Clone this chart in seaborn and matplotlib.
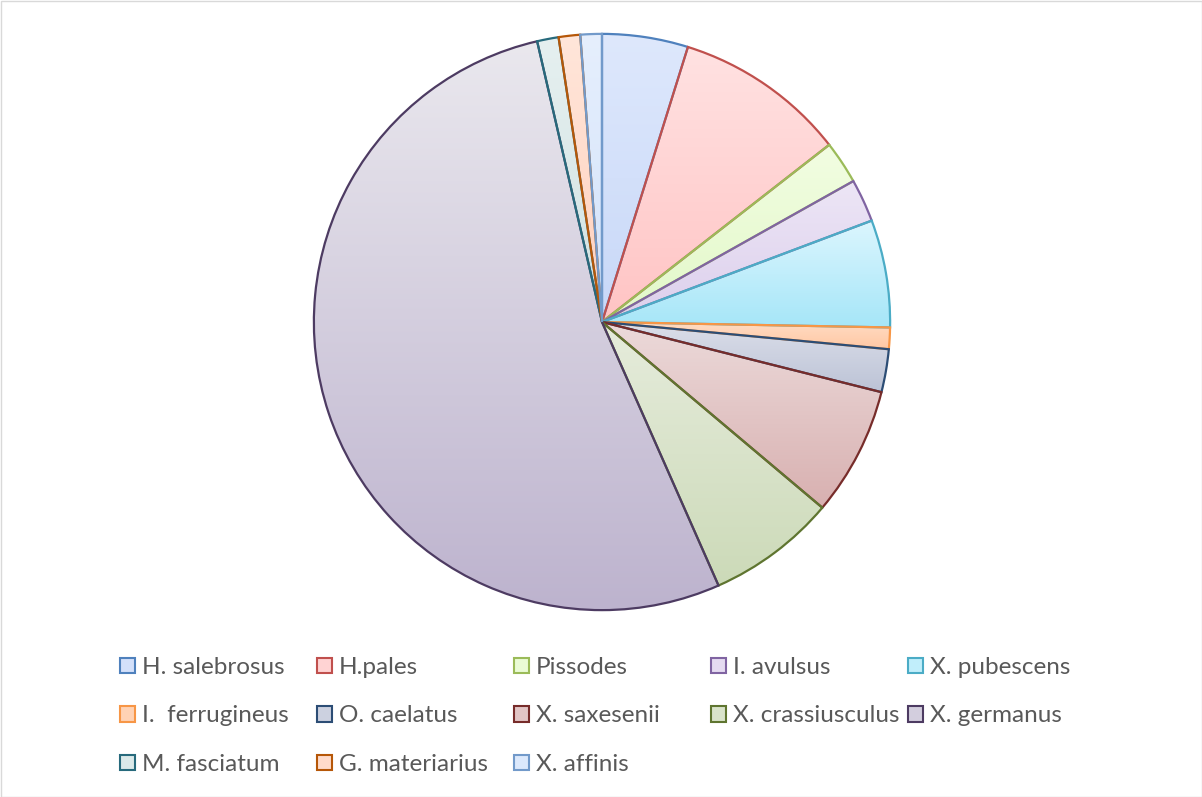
import matplotlib
matplotlib.use("Agg")
import matplotlib.pyplot as plt
from matplotlib.patches import Patch, Rectangle
from matplotlib.colors import to_rgb
import numpy as np
import seaborn as sns

species = ["H. salebrosus", "H.pales", "Pissodes", "I. avulsus", "X. pubescens",
           "I.  ferrugineus", "O. caelatus", "X. saxesenii", "X. crassiusculus",
           "X. germanus", "M. fasciatum", "G. materiarius", "X. affinis"]
counts = [4, 8, 2, 2, 5, 1, 2, 6, 6, 44, 1, 1, 1]
fill_top = ["#DEE8FC", "#FFE2E2", "#F2FDE2", "#EDE6F6", "#DCF6FE", "#FFDCC4", "#DCDFEA",
            "#ECDADA", "#E6ECDC", "#EAE8EE", "#E6F0F0", "#FFE6DA", "#E6EFFD"]
fill_bottom = ["#C8D8F8", "#FFC4C4", "#E2F8C8", "#DCCFEC", "#A6E6F8", "#FFC8A4", "#BCC3D6",
               "#D8B0B0", "#CCDAB8", "#BDB3CE", "#D0E2E2", "#FFD0BC", "#D2E2FA"]
edge_colors = ["#4F81BD", "#C0504D", "#9BBB59", "#8064A2", "#4BACC6", "#F79646",
               "#2C4D75", "#772C2A", "#5F7530", "#4D3B62", "#276A7C", "#B65708", "#729ACA"]

sns.set_theme(style="white")
plt.rcParams['font.family'] = ['Lato', 'DejaVu Sans']

fig = plt.figure(figsize=(12.02, 7.97), dpi=100)
fig.patch.set_facecolor("white")
W, H = 1202, 797
cx, cy, r = 602, 322, 291
ax = fig.add_axes([(cx - r) / W, (H - cy - r) / H, 2 * r / W, 2 * r / H])
mid_colors = [tuple((np.array(to_rgb(a)) + np.array(to_rgb(b))) / 2) for a, b in zip(fill_top, fill_bottom)]
wedges, _ = ax.pie(counts, colors=mid_colors, startangle=90, counterclock=False,
                   radius=1.0, wedgeprops=dict(linewidth=1.6))
for w, ec, ft, fb in zip(wedges, edge_colors, fill_top, fill_bottom):
    w.set_edgecolor(ec)
    w.set_zorder(3)
    th = np.radians(np.linspace(w.theta1, w.theta2, 200))
    ys = np.concatenate([np.sin(th) * w.r + w.center[1], [w.center[1]]])
    ymin, ymax = ys.min(), ys.max()
    t = np.linspace(0, 1, 256)[:, None]
    c0, c1 = np.array(to_rgb(fb)), np.array(to_rgb(ft))
    grad = (c0[None, :] * (1 - t) + c1[None, :] * t)[:, None, :]
    im = ax.imshow(grad, extent=[-1.05, 1.05, ymin, ymax], origin="lower",
                   aspect="auto", zorder=2, interpolation="bilinear")
    im.set_clip_path(w)
    w.set_facecolor("none")
ax.set_xlim(-1.01, 1.01)
ax.set_ylim(-1.01, 1.01)
ax.set_aspect("equal")
ax.axis("off")

handles = [Patch(facecolor=f, edgecolor=e, linewidth=1.5) for f, e in zip(mid_colors, edge_colors)]
ncol = 5
for c in range(ncol):
    idx = list(range(c, len(species), ncol))
    leg = fig.legend([handles[i] for i in idx], [species[i] for i in idx],
                     loc="upper left", bbox_to_anchor=((120 + 197 * c) / W, 1 - 657 / H),
                     frameon=False, fontsize=17.5, handlelength=0.6, handleheight=0.6,
                     handletextpad=0.3, labelspacing=1.13,
                     borderaxespad=0, borderpad=0)
    for t in leg.get_texts():
        t.set_color("#595959")

fig.add_artist(Rectangle((0.5 / W, 0.5 / H), 1 - 1.0 / W, 1 - 1.0 / H, transform=fig.transFigure,
                         fill=False, edgecolor="#D9D9D9", linewidth=1))
fig.savefig("out.png", dpi=100, facecolor="white")
